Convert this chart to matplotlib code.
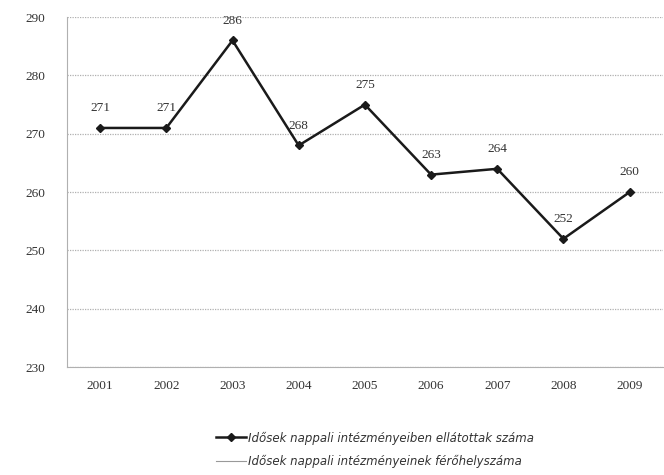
import matplotlib
matplotlib.use("Agg")
import matplotlib.pyplot as plt
from matplotlib.lines import Line2D

years = ["2001", "2002", "2003", "2004", "2005", "2006", "2007", "2008", "2009"]
ellatottak = [271, 271, 286, 268, 275, 263, 264, 252, 260]
series_names = ["Idősek nappali intézményeiben ellátottak száma",
                "Idősek nappali intézményeinek férőhelyszáma"]
yticks = [230, 240, 250, 260, 270, 280, 290]

plt.rcParams['font.family'] = ['Liberation Serif', 'DejaVu Serif']

fig = plt.figure(figsize=(6.64, 4.75), dpi=100)
ax = fig.add_axes([0.101, 0.227, 0.897, 0.737])

x = list(range(len(years)))
ax.plot(x, ellatottak, color='#1a1a1a', lw=1.8, marker='D', ms=4.5, zorder=3)
for xi, v in zip(x, ellatottak):
    ax.annotate(str(v), (xi, v), xytext=(0, 10), textcoords='offset points',
                ha='center', va='bottom', fontsize=9.5, color='#333333')

ax.set_xlim(-0.5, len(years) - 0.5)
ax.set_ylim(230, 290)
ax.set_yticks(yticks)
ax.set_xticks(x)
ax.set_xticklabels(years)
ax.tick_params(axis='both', length=0, labelsize=9.5, colors='#333333')
ax.tick_params(axis='y', pad=16)
ax.tick_params(axis='x', pad=9)
ax.grid(axis='y', color='#b0b0b0', lw=0.9, ls=(0, (1, 1)))
for s in ['top', 'right']:
    ax.spines[s].set_visible(False)
for s in ['left', 'bottom']:
    ax.spines[s].set_color('#b0b0b0')
    ax.spines[s].set_linestyle((0, (1, 1)))

handles = [Line2D([], [], color='#1a1a1a', lw=1.8, marker='D', ms=4.5),
           Line2D([], [], color='#999999', lw=0.8)]
fig.legend(handles, series_names, loc='center', bbox_to_anchor=(0.565, 0.053),
           ncol=1, frameon=False, prop={'family': 'DejaVu Sans', 'style': 'italic', 'size': 8.5},
           labelspacing=0.9, handlelength=2.5, handletextpad=0.2, labelcolor='#333333')

fig.savefig("out.png", dpi=100)
